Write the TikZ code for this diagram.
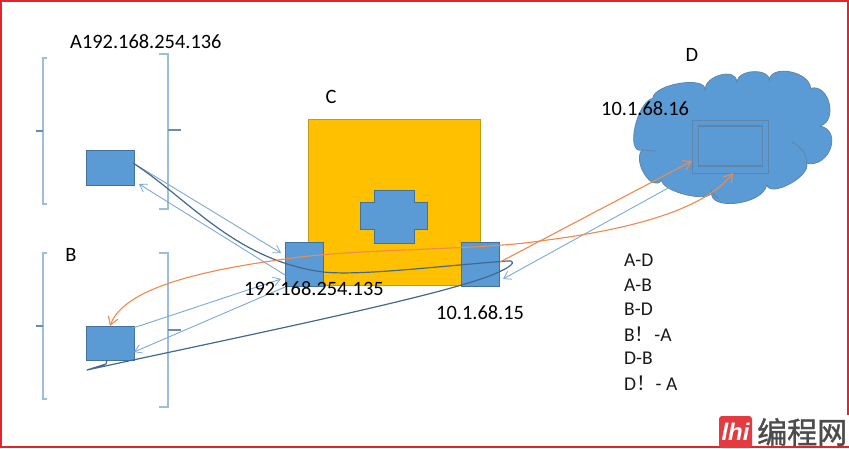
\documentclass[tikz,border=0pt]{standalone}
\usepackage{fontspec}
\setmainfont{Carlito}
\newfontfamily\cjkfont{Noto Sans CJK SC}
\newfontfamily\cjkbold[FakeBold=1.2]{Noto Sans CJK SC}
\newfontfamily\logofont{Liberation Sans}
\usetikzlibrary{arrows.meta,calc}

% One lobe of the cloud outline: start, crest, end
\newcommand{\lobe}[3]{.. controls ($(#1)+1.333*(#2)-0.667*(#1)-0.667*(#3)$) and ($(#3)+1.333*(#2)-0.667*(#1)-0.667*(#3)$) .. (#3)}
% The whole cloud outline, used for both fill and stroke
\newcommand{\cloudoutline}{(188,175) \lobe{188,175}{270,130}{345,150} \lobe{345,150}{392,105}{440,125}
    \lobe{440,125}{495,95}{538,125} \lobe{538,125}{598,95}{662,145} \lobe{662,145}{718,190}{690,258}
    \lobe{690,258}{722,325}{650,370} \lobe{650,370}{600,432}{530,435} \lobe{530,435}{440,490}{365,455}
    \lobe{365,455}{290,465}{215,420} \lobe{215,420}{165,405}{155,330} \lobe{155,330}{135,262}{188,175}}
% Square bracket with a short tick at mid height: x of spine, x of serif, x of tick, top, bottom, tick y
\newcommand{\bracketshape}[6]{\draw[bracketline] (#2,#4) -- (#1,#4) -- (#1,#5) -- (#2,#5); \draw[tickline] (#1,#6) -- (#3,#6);}

\tikzset{
  label18/.style={inner sep=0pt,font=\fontsize{20.4}{22}\selectfont,text=black},
  label17/.style={inner sep=0pt,anchor=west,font=\fontsize{19.5}{22}\selectfont,text=black!90},
  bluebox/.style={draw=boxedge,fill=boxblue,line width=0.9pt,inner sep=0pt},
  bracketline/.style={draw=bracketblue,line width=1.1pt},
  tickline/.style={draw=boxedge!80,line width=1.1pt},
  thinarrow/.style={draw=thinblue,line width=0.9pt,-{Straight Barb[length=7pt,width=9pt,line width=0.8pt]}},
  orangearrow/.style={draw=linkorange,line width=1.1pt,-{Straight Barb[length=8pt,width=10pt,line width=1.1pt]}},
  route/.style={draw=routeblue,line width=1.2pt,line join=round},
}
\definecolor{boxblue}{HTML}{5B9BD5}
\definecolor{boxedge}{HTML}{41719C}
\definecolor{bracketblue}{HTML}{9DBDDD}
\definecolor{thinblue}{HTML}{7DA9D6}
\definecolor{linkorange}{HTML}{EE8A4E}
\definecolor{routeblue}{HTML}{44698F}
\definecolor{gatefill}{HTML}{FFC000}
\definecolor{gateedge}{HTML}{C49A1A}
\definecolor{framered}{HTML}{E0252B}

\begin{document}
\begin{tikzpicture}[x=1pt,y=-1pt]
\useasboundingbox (0,0) rectangle (849,448);
\fill[white] (0,0) rectangle (849,448);

% Brackets round hosts A and B
\bracketshape{43}{47}{36}{58}{204}{131}
\bracketshape{168}{159}{181}{54}{209}{130}
\bracketshape{43}{47}{36}{253}{399}{326}
\bracketshape{168}{159}{181}{253}{407}{330}

% Gateway C with its two interfaces
\node[draw=gateedge,fill=gatefill,line width=0.8pt,inner sep=0pt,minimum width=172pt,minimum height=166pt] (gate) at (394,202) {};
\draw[bluebox] (374,190) -- (414,190) -- (414,202) -- (427,202) -- (427,229) -- (414,229) -- (414,243) -- (374,243) -- (374,229) -- (360,229) -- (360,202) -- (374,202) -- cycle;
\node[bluebox,minimum width=38pt,minimum height=44pt] (portL) at (304,264) {};
\node[bluebox,minimum width=38pt,minimum height=44pt] (portR) at (480,264) {};

% Hosts A and B
\node[bluebox,minimum width=48pt,minimum height=35pt] (hostA) at (110,167.5) {};
\node[bluebox,minimum width=48pt,minimum height=34pt] (hostB) at (110,343) {};

% Connector ends
\coordinate (aOut) at (133,163);
\coordinate (aIn) at (139,184);
\coordinate (portLa) at (281,253);
\coordinate (portLb) at (285,275);
\coordinate (portLc) at (281,279);
\coordinate (portLd) at (285,287);
\coordinate (bOut) at (133,328);
\coordinate (bIn) at (134,352);
\coordinate (bTop) at (110,326);
\coordinate (portRin) at (503,279);
\coordinate (cloudOut) at (670,187);
\coordinate (portRout) at (500,262);
\coordinate (screenA) at (692,161);
\coordinate (screenB) at (733,173);

% Cloud D
\begin{scope}[shift={(590,40)},x=0.3333pt,y=-0.3333pt]
  \fill[boxblue] \cloudoutline -- cycle;
  \draw[boxedge!85,line width=0.8pt] \cloudoutline;
  \draw[boxedge!85,line width=0.8pt] (155,330) -- (198,333) (605,305) .. controls (640,325) and (650,345) .. (650,370)
    (365,455) .. controls (372,465) and (378,470) .. (385,475);
  % Screen inside the cloud
  \node[draw=boxedge!85,line width=0.9pt,inner sep=0pt,minimum width=75.7pt,minimum height=53.3pt] (screenOuter) at (421.5,320) {};
  \node[draw=boxedge!85,line width=1.1pt,inner sep=0pt,minimum width=63.7pt,minimum height=40pt] (screenInner) at (421.5,318) {};
\end{scope}

% Links between hosts and gateway
\draw[thinarrow] (aOut) -- (portLa);
\draw[thinarrow] (portLb) -- (aIn);
\draw[thinarrow] (bOut) -- (portLc);
\draw[thinarrow] (portLd) -- (bIn);
\draw[thinarrow] (cloudOut) -- (portRin);

% Route traced across the gateway and back to host B
\draw[route] (aOut) .. controls (190,200) and (235,260) .. (323,272)
  .. controls (360,276) and (440,266) .. (507,261)
  .. controls (513,260) and (517,263) .. (503,270)
  .. controls (470,288) and (330,318) .. (133,360)
  -- (87,370) -- (106,364) -- (107,360);

% Orange links towards the cloud and host B
\draw[orangearrow] (portRout) -- (screenA);
\draw[orangearrow] (540,241) .. controls (610,232) and (700,215) .. (screenB);
\draw[orangearrow] (540,241) .. controls (480,250) and (380,248) .. (300,257)
  .. controls (215,268) and (125,285) .. (bTop);

% Labels
\node[label18,anchor=west] (labelA) at (70,42) {A192.168.254.136};
\node[label18] (labelB) at (71,255) {B};
\node[label18] (labelC) at (331,97) {C};
\node[label18] (labelD) at (692,55) {D};
\node[label18,anchor=west] (labelDip) at (601,109) {10.1.68.16};
\node[label18,anchor=west] (labelLip) at (244,289) {192.168.254.135};
\node[label18,anchor=west] (labelRip) at (436,313) {10.1.68.15};
\node[label17] (pairAD) at (624,260) {A-D};
\node[label17] (pairAB) at (624,285) {A-B};
\node[label17] (pairBD) at (624,309) {B-D};
\node[label17] (pairBA) at (624,334) {B{\cjkfont ！}-A};
\node[label17] (pairDB) at (624,358) {D-B};
\node[label17] (pairDA) at (624,383) {D{\cjkfont ！}- A};

% Outer frame
\draw[framered,line width=2pt] (0.5,0.5) rectangle (848,447);

% Site mark in the corner
\fill[white] (716,415) rectangle (849,446);
\fill[framered!90!white,rounded corners=3pt] (719,416) rectangle (752,448);
\node[inner sep=0pt,text=white,font=\logofont\bfseries\itshape\fontsize{24}{24}\selectfont] (logoMark) at (735.5,432) {lhi};
\node[inner sep=0pt,anchor=west,text=black!70,font=\cjkbold\fontsize{30}{30}\selectfont] (siteName) at (757,432) {编程网};
\end{tikzpicture}
\end{document}
